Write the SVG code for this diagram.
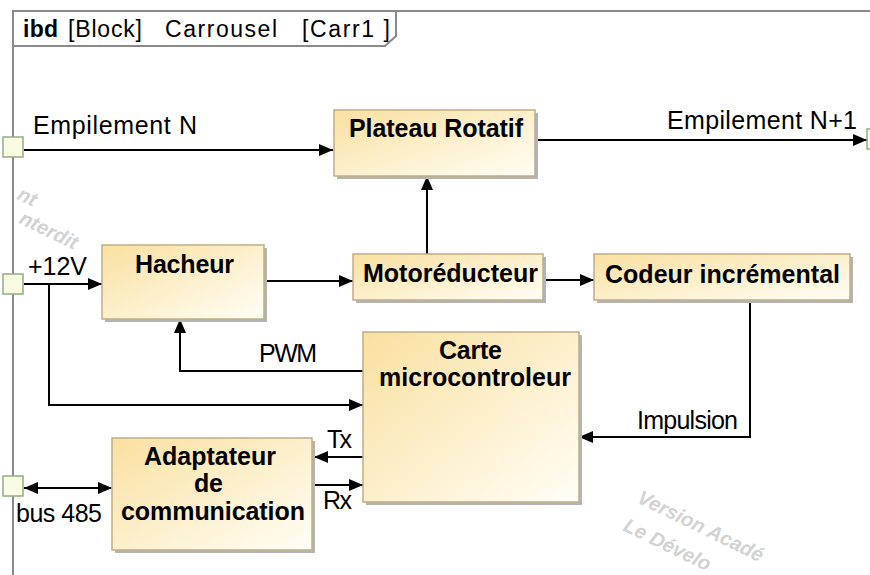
<svg xmlns="http://www.w3.org/2000/svg" width="870" height="575" viewBox="0 0 870 575">
<style>
text { font-family: "Liberation Sans", Arial, sans-serif; fill: #000; }
.hdr { font-size: 23px; }
.lbl { font-size: 25px; }
.ttl { font-size: 25px; font-weight: bold; }
.wm { font-size: 20px; font-weight: bold; font-style: italic; fill: #d2d2d2; }
.box { fill: url(#g); stroke: #BDAE86; stroke-width: 1.5; }
.shd { fill: #B4B4B4; }
.port { fill: #FAFCE2; stroke: #8FAE82; stroke-width: 1.5; }
.frame { fill: none; stroke: #8A8A8A; stroke-width: 2; }
.c { fill: none; stroke: #000; stroke-width: 2; }
</style>
<defs>
<linearGradient id="g" x1="0" y1="0" x2="1" y2="1">
<stop offset="0" stop-color="#FAE0A0"/>
<stop offset="1" stop-color="#FFFEF6"/>
</linearGradient>
<marker id="a" markerUnits="userSpaceOnUse" markerWidth="14" markerHeight="12" refX="14" refY="6" orient="auto">
<path d="M0,0 L14,6 L0,12 z" fill="#000"/>
</marker>
<marker id="as" markerUnits="userSpaceOnUse" markerWidth="14" markerHeight="12" refX="0" refY="6" orient="auto">
<path d="M14,0 L0,6 L14,12 z" fill="#000"/>
</marker>
</defs>
<rect width="870" height="575" fill="#fff"/>

<g id="watermark">
<text class="wm" x="33" y="207" text-anchor="end" transform="rotate(26 33 207)">nt</text>
<text class="wm" x="74" y="250" text-anchor="end" transform="rotate(26 74 250)">nterdit</text>
<text class="wm" x="636" y="502" transform="rotate(26 636 502)">Version Acadé</text>
<text class="wm" x="622" y="530" transform="rotate(26 622 530)">Le Dévelo</text>
</g>

<g id="frame">
<path class="frame" d="M13,575 V11 H870"/>
<path class="frame" d="M13,46 H385 L396,36 V11"/>
<text class="hdr" x="23" y="37" font-weight="bold" textLength="35">ibd</text>
<text class="hdr" x="68" y="37" textLength="74">[Block]</text>
<text class="hdr" x="165" y="37" textLength="112">Carrousel</text>
<text class="hdr" x="302" y="37" textLength="88">[Carr1 ]</text>
</g>

<g id="connectors">
<path class="c" d="M24,150 H333" marker-end="url(#a)"/>
<path class="c" d="M535,140 H867" marker-end="url(#a)"/>
<path class="c" d="M24,284 H102" marker-end="url(#a)"/>
<path class="c" d="M49,284 V405 H363" marker-end="url(#a)"/>
<path class="c" d="M264,281 H353" marker-end="url(#a)"/>
<path class="c" d="M427,254 V176" marker-end="url(#a)"/>
<path class="c" d="M546,280 H594" marker-end="url(#a)"/>
<path class="c" d="M363,371 H180 V319" marker-end="url(#a)"/>
<path class="c" d="M750,300 V437 H579" marker-end="url(#a)"/>
<path class="c" d="M363,457 H314" marker-end="url(#a)"/>
<path class="c" d="M314,485 H363" marker-end="url(#a)"/>
<path class="c" d="M24,488 H112" marker-start="url(#as)" marker-end="url(#a)"/>
<text class="lbl" x="33" y="134" textLength="164">Empilement N</text>
<text class="lbl" x="667" y="129" textLength="190">Empilement N+1</text>
<text class="lbl" x="28" y="275" textLength="59">+12V</text>
<text class="lbl" x="259" y="362" textLength="58">PWM</text>
<text class="lbl" x="637" y="429" textLength="101">Impulsion</text>
<text class="lbl" x="327" y="448" textLength="25">Tx</text>
<text class="lbl" x="323" y="509" textLength="29">Rx</text>
<text class="lbl" x="16" y="522" textLength="86">bus 485</text>
</g>

<g id="port-empilementN"><rect class="port" x="3" y="137" width="20" height="20"/></g>
<g id="port-12V"><rect class="port" x="3" y="274" width="20" height="20"/></g>
<g id="port-bus485"><rect class="port" x="3" y="476" width="20" height="20"/></g>
<g id="port-empilementN1"><rect class="port" x="867" y="129" width="20" height="20"/></g>

<g id="plateau">
<rect class="shd" x="337" y="113" width="201" height="66"/>
<rect class="box" x="334" y="110" width="201" height="66"/>
<text class="ttl" x="349" y="137" textLength="174">Plateau Rotatif</text>
</g>

<g id="hacheur">
<rect class="shd" x="105" y="248" width="162" height="74"/>
<rect class="box" x="102" y="245" width="162" height="74"/>
<text class="ttl" x="135" y="273" textLength="99">Hacheur</text>
</g>

<g id="motoreducteur">
<rect class="shd" x="356" y="257" width="190" height="46"/>
<rect class="box" x="353" y="254" width="190" height="46"/>
<text class="ttl" x="363" y="282" textLength="175">Motoréducteur</text>
</g>

<g id="codeur">
<rect class="shd" x="597" y="257" width="256" height="46"/>
<rect class="box" x="594" y="254" width="256" height="46"/>
<text class="ttl" x="605" y="283" textLength="235">Codeur incrémental</text>
</g>

<g id="carte">
<rect class="shd" x="366" y="335" width="216" height="170"/>
<rect class="box" x="363" y="332" width="216" height="170"/>
<text class="ttl" x="439" y="359" textLength="63">Carte</text>
<text class="ttl" x="379" y="386" textLength="192">microcontroleur</text>
</g>

<g id="adaptateur">
<rect class="shd" x="115" y="441" width="200" height="112"/>
<rect class="box" x="112" y="438" width="200" height="112"/>
<text class="ttl" x="144" y="465" textLength="132">Adaptateur</text>
<text class="ttl" x="194" y="492" textLength="29">de</text>
<text class="ttl" x="121" y="520" textLength="184">communication</text>
</g>
</svg>
